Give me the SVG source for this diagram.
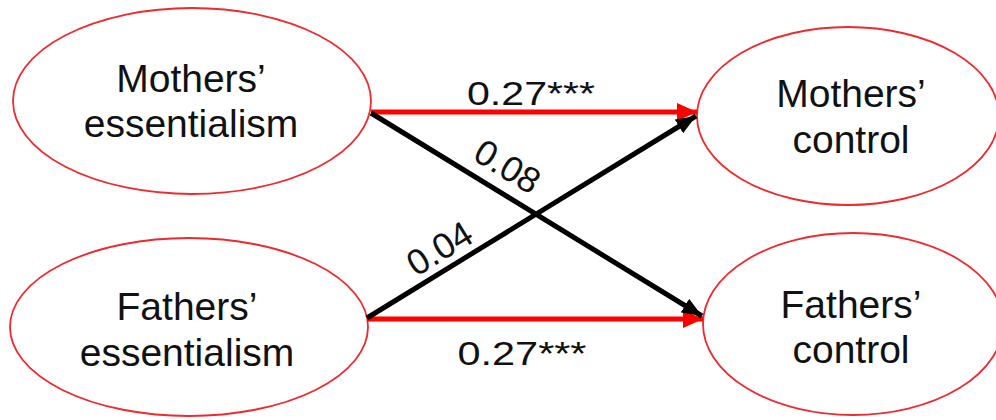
<svg xmlns="http://www.w3.org/2000/svg" width="996" height="420" viewBox="0 0 996 420">
<style>
.node{fill:#ffffff;stroke:#ec2a2f;stroke-width:1.8}
.lbl{font-family:"Liberation Sans",Arial,sans-serif;font-size:39px;fill:#111;text-anchor:middle}
.coef{font-family:"Liberation Sans",Arial,sans-serif;font-size:34px;fill:#111;text-anchor:middle}
.rot{font-size:36px}
.red{stroke:#ff0000;stroke-width:5;fill:none}
.blk{stroke:#000;stroke-width:5;fill:none}
</style>
<defs>
<marker id="ar" markerUnits="userSpaceOnUse" viewBox="0 0 20 18" refX="20" refY="9" markerWidth="20" markerHeight="18" orient="auto">
<path d="M0,0 L20,9 L0,18 Z" fill="#ff0000"/>
</marker>
<marker id="ab" markerUnits="userSpaceOnUse" viewBox="0 0 20 16" refX="20" refY="8" markerWidth="20" markerHeight="16" orient="auto">
<path d="M0,0 L20,8 L0,16 Z" fill="#000"/>
</marker>
</defs>
<rect width="996" height="420" fill="#ffffff"/>
<g id="mothers-essentialism">
<ellipse class="node" cx="192" cy="101" rx="179" ry="93"/>
<text class="lbl" x="191" y="92">Mothers’</text>
<text class="lbl" x="191" y="137">essentialism</text>
</g>
<g id="fathers-essentialism">
<ellipse class="node" cx="189" cy="327" rx="179" ry="89"/>
<text class="lbl" x="187" y="320">Fathers’</text>
<text class="lbl" x="187" y="366">essentialism</text>
</g>
<g id="mothers-control">
<ellipse class="node" cx="848" cy="116" rx="151" ry="89"/>
<text class="lbl" x="851" y="107">Mothers’</text>
<text class="lbl" x="851" y="153">control</text>
</g>
<g id="fathers-control">
<ellipse class="node" cx="853" cy="324" rx="150" ry="91"/>
<text class="lbl" x="851" y="318">Fathers’</text>
<text class="lbl" x="851" y="363">control</text>
</g>
<g id="connectors">
<line class="red" x1="371" y1="112" x2="697" y2="112" marker-end="url(#ar)"/>
<line class="red" x1="367" y1="319" x2="703" y2="319" marker-end="url(#ar)"/>
<line class="blk" x1="371" y1="113" x2="702" y2="316" marker-end="url(#ab)"/>
<line class="blk" x1="367" y1="318" x2="696" y2="116" marker-end="url(#ab)"/>
<text class="coef" x="531" y="105" textLength="128" lengthAdjust="spacingAndGlyphs">0.27***</text>
<text class="coef" x="522" y="365" textLength="129" lengthAdjust="spacingAndGlyphs">0.27***</text>
<text class="coef rot" transform="translate(501,177) rotate(31.5)" x="0" y="0">0.08</text>
<text class="coef rot" transform="translate(446,259) rotate(-31.5)" x="0" y="0">0.04</text>
</g>
</svg>
